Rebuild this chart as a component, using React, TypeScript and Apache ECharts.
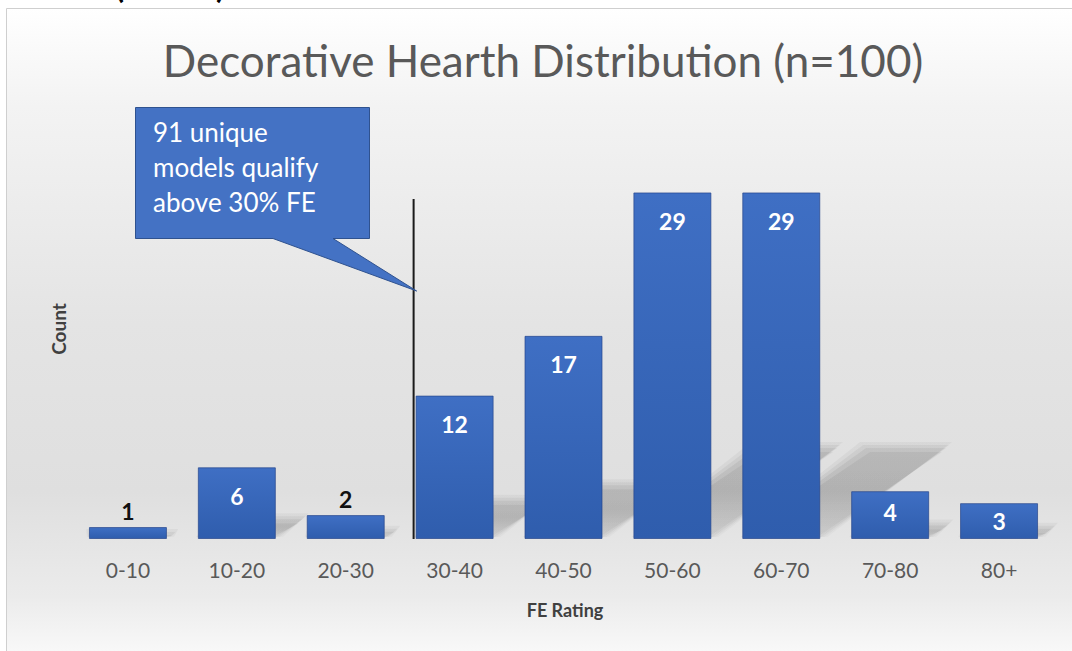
import React, { useEffect, useRef } from "react";
import * as echarts from "echarts";

const categories = ["0-10", "10-20", "20-30", "30-40", "40-50", "50-60", "60-70", "70-80", "80+"];
const counts = [1, 6, 2, 12, 17, 29, 29, 4, 3];
const titleText = "Decorative Hearth Distribution (n=100)";
const xAxisTitle = "FE Rating";
const yAxisTitle = "Count";
const calloutLines = ["91 unique", "models qualify", "above 30% FE"];
const thresholdCategory = "30-40";
const croppedHeader = "(n=100)";

const FONT = "Lato, 'Noto Sans', sans-serif";
const BAR_W = 78;

function labelFor(v: number) {
  const base = { show: true, fontFamily: FONT, fontWeight: "bold" as const, fontSize: 23 };
  if (v <= 2) return { ...base, position: "top" as const, distance: 5, color: "#111" };
  if (v <= 3) return { ...base, position: "inside" as const, color: "#fff" };
  if (v <= 4) return { ...base, position: "insideTop" as const, distance: 9, color: "#fff" };
  return { ...base, position: "insideTop" as const, distance: 17, color: "#fff" };
}

export default function App() {
  const ref = useRef<HTMLDivElement>(null);
  useEffect(() => {
    if (!ref.current) return;
    const chart = echarts.init(ref.current, undefined, { renderer: "svg" });
    const barGrad = new echarts.graphic.LinearGradient(0, 0, 0, 1, [
      { offset: 0, color: "#3F6FC4" },
      { offset: 1, color: "#2F5DAD" },
    ]);
    const bgGrad = new echarts.graphic.LinearGradient(0, 0, 0, 1, [
      { offset: 0, color: "#ffffff" },
      { offset: 0.14, color: "#f3f3f3" },
      { offset: 0.45, color: "#e4e4e4" },
      { offset: 0.69, color: "#dfdfdf" },
      { offset: 0.84, color: "#ebebeb" },
      { offset: 0.93, color: "#fafafa" },
      { offset: 1, color: "#ffffff" },
    ]);

    const blurLayers = [
      { grow: 7, alpha: 0.045 },
      { grow: 4, alpha: 0.055 },
      { grow: 1, alpha: 0.065 },
      { grow: -3, alpha: 0.06 },
    ];

    chart.setOption({
      animation: false,
      grid: { left: 73.5, right: 18.5, top: 180.5, bottom: 112 },
      xAxis: {
        type: "category",
        data: categories,
        axisLine: { show: false },
        axisTick: { show: false },
        axisLabel: { fontFamily: FONT, fontSize: 21, color: "#595959", margin: 20 },
      },
      yAxis: { type: "value", min: 0, max: 30, show: false, splitLine: { show: false } },
      series: [
        {
          type: "custom",
          silent: true,
          z: 1,
          encode: { x: 0, y: 1 },
          data: counts.map((v, i) => [i, v]),
          renderItem: (params: any, api: any) => {
            const base = api.coord([api.value(0), 0]);
            const top = api.coord([api.value(0), api.value(1)]);
            const h = base[1] - top[1];
            const half = BAR_W / 2;
            const dx = h * 0.36;
            const dy = h * 0.26;
            const children = blurLayers.map((l) => {
              const g = l.grow;
              return {
                type: "polygon",
                shape: {
                  points: [
                    [base[0] - half - g * 0.3, base[1] - 2],
                    [base[0] + half + g, base[1] - 2],
                    [base[0] + half + dx + g, base[1] - dy - g],
                    [base[0] - half + dx - g, base[1] - dy - g],
                  ],
                },
                style: {
                  fill: new echarts.graphic.LinearGradient(0, 1, 0, 0, [
                    { offset: 0, color: `rgba(0,0,0,${l.alpha * 0.5})` },
                    { offset: 0.5, color: `rgba(0,0,0,${l.alpha})` },
                    { offset: 1, color: `rgba(0,0,0,${l.alpha * 0.85})` },
                  ]),
                },
              };
            });
            return { type: "group", children };
          },
        },
        {
          type: "bar",
          z: 3,
          barWidth: BAR_W,
          data: counts.map((v) => ({ value: v, label: labelFor(v) })),
          itemStyle: { color: barGrad, borderColor: "rgba(38,70,140,0.7)", borderWidth: 1 },
        },
      ],
    });

    const lineX = (chart.convertToPixel({ xAxisIndex: 0 }, thresholdCategory) as number) - BAR_W / 2 - 2;
    const baseY = chart.convertToPixel({ yAxisIndex: 0 }, 0) as number;

    chart.setOption({
      graphic: [
        {
          type: "rect",
          z: -10,
          shape: { x: 6.5, y: 8.5, width: 1100, height: 700 },
          style: { fill: bgGrad, stroke: "#cfcfcf", lineWidth: 1 },
          silent: true,
        },
        {
          type: "text",
          z: 5,
          x: 170,
          y: 1,
          style: {
            text: croppedHeader,
            font: `bold 32px ${FONT}`,
            fill: "#000",
            textAlign: "center",
            textVerticalAlign: "bottom",
          },
        },
        {
          type: "text",
          z: 5,
          x: 543,
          y: 60,
          style: {
            text: titleText,
            font: `44px ${FONT}`,
            fill: "#595959",
            textAlign: "center",
            textVerticalAlign: "middle",
          },
        },
        {
          type: "line",
          z: 10,
          shape: { x1: lineX, y1: 199, x2: lineX, y2: baseY },
          style: { stroke: "#1a1a1a", lineWidth: 2 },
        },
        {
          type: "polygon",
          z: 11,
          shape: {
            points: [
              [135.5, 107.5],
              [369.5, 107.5],
              [369.5, 238.5],
              [333, 238.5],
              [lineX + 3, 291],
              [273, 238.5],
              [135.5, 238.5],
            ],
          },
          style: { fill: "#4472C4", stroke: "#2F528F", lineWidth: 1 },
        },
        {
          type: "text",
          z: 12,
          x: 153,
          y: 114,
          style: {
            text: calloutLines.join("\n"),
            font: `26px ${FONT}`,
            lineHeight: 35,
            fill: "#ffffff",
            textAlign: "left",
            textVerticalAlign: "top",
          },
        },
        {
          type: "text",
          z: 5,
          x: 58,
          y: 329,
          rotation: Math.PI / 2,
          style: {
            text: yAxisTitle,
            font: `bold 19px ${FONT}`,
            fill: "#404040",
            textAlign: "center",
            textVerticalAlign: "middle",
          },
        },
        {
          type: "text",
          z: 5,
          x: 565,
          y: 610,
          style: {
            text: xAxisTitle,
            font: `bold 18px ${FONT}`,
            fill: "#404040",
            textAlign: "center",
            textVerticalAlign: "middle",
          },
        },
      ],
    });

    return () => chart.dispose();
  }, []);
  return (
    <div
      ref={ref}
      style={{ position: "fixed", left: 0, top: 0, width: 1072, height: 651, background: "#fff" }}
    />
  );
}
